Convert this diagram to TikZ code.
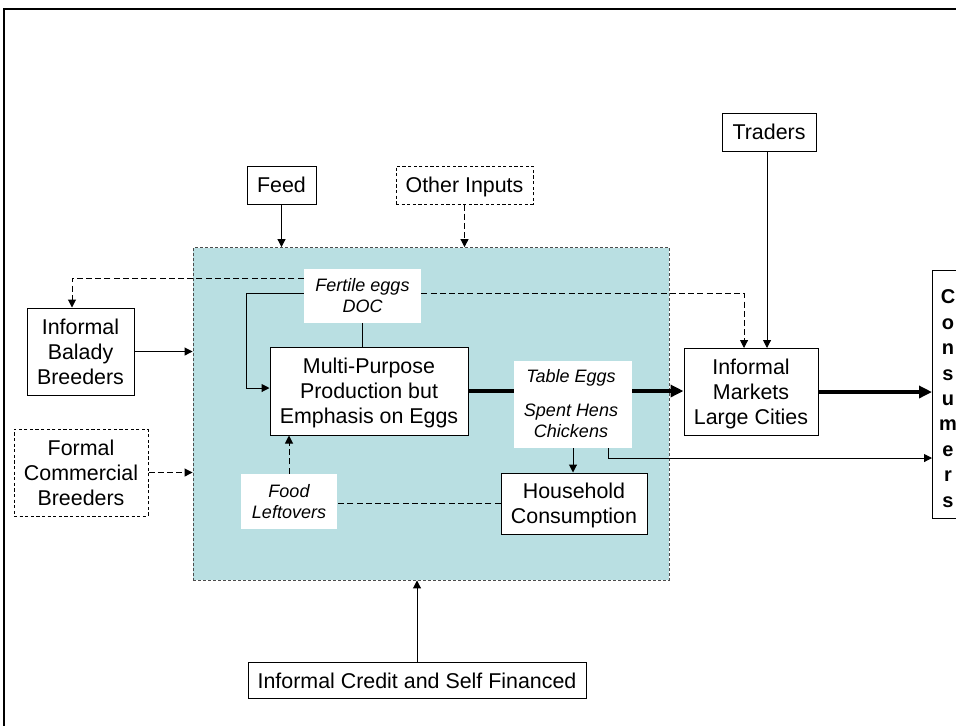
\documentclass[tikz,border=0pt]{standalone}
\usepackage{fontspec}
\setmainfont{Liberation Sans}
\usetikzlibrary{arrows.meta}
\pgfdeclarelayer{back}
\pgfdeclarelayer{lines}
\pgfsetlayers{back,lines,main}
\definecolor{sysfill}{HTML}{B9DFE2}
\tikzset{
  box/.style={draw, line width=0.5pt, fill=white, inner sep=0pt, align=center,
    text depth=0pt, font=\fontsize{10.7}{12.5}\selectfont},
  dbox/.style={box, dash pattern=on 1.6pt off 1.2pt},
  lab/.style={fill=white, inner sep=0pt, align=center,
    font=\fontsize{9}{10.5}\selectfont\itshape},
  txt/.style={inner sep=0pt, align=center, font=\fontsize{9}{10.5}\selectfont\itshape},
  conn/.style={line width=0.5pt, -{Triangle[length=4pt,width=4pt]}},
  dconn/.style={conn, dash pattern=on 3pt off 1.6pt},
  dline/.style={line width=0.5pt, dash pattern=on 3pt off 1.6pt},
  heavy/.style={line width=2pt, -{Triangle[length=6.5pt,width=6pt]}},
  sysbox/.style={fill=sysfill, draw=black!70, line width=0.45pt,
    dash pattern=on 1.5pt off 1pt, inner sep=0pt}
}
\begin{document}
\begin{tikzpicture}[x=0.5pt, y=-0.5pt]
\useasboundingbox (0,0) rectangle (956,725);
\clip (0,0) rectangle (956,725);

% production system area
\begin{pgfonlayer}{back}
\fill[white] (0,0) rectangle (956,725);
\node[sysbox, minimum width=238pt, minimum height=166.25pt] (sys) at (431,413.75) {};
\end{pgfonlayer}

% outer frame
\draw[line width=1pt] (4,760) -- (4,9) -- (1000,9);

% inputs
\node[box, minimum width=34.5pt, minimum height=19pt] (feed) at (281.5,185) {Feed};
\node[dbox, minimum width=68.5pt, minimum height=19pt] (oth) at (464.5,185) {Other Inputs};
\node[box, minimum width=47pt, minimum height=19pt] (tr) at (769,132) {Traders};

% breeders
\node[box, minimum width=53.5pt, minimum height=43.5pt] (bb) at (80.5,351.5) {Informal\\Balady\\Breeders};
\node[dbox, minimum width=67pt, minimum height=43.5pt] (fc) at (81,472.5) {Formal\\Commercial\\Breeders};

% inside the system
\node[lab, minimum width=58.5pt, minimum height=27pt] (fe) at (362.5,296) {Fertile eggs\\DOC};
\node[box, minimum width=99pt, minimum height=44pt] (mp) at (369,391) {Multi-Purpose\\Production but\\Emphasis on Eggs};
\node[lab, minimum width=59pt, minimum height=43.5pt] (te) at (573,404.5) {};
\node[txt] (tet) at (571,378) {Table Eggs};
\node[txt] (sht) at (571,420.5) {Spent Hens\\Chickens};
\node[box, minimum width=73pt, minimum height=30.5pt] (hh) at (574,503.5) {Household\\Consumption};
\node[lab, minimum width=48pt, minimum height=27.5pt] (fl) at (289,501.5) {Food\\Leftovers};

% markets and consumers
\node[box, minimum width=67pt, minimum height=43.5pt] (mk) at (751,392) {Informal\\Markets\\Large Cities};
\node[box, minimum width=20pt, minimum height=124pt, anchor=west] (cons) at (932,394) {};
\node[inner sep=0pt, align=center, font=\fontsize{10}{12.7}\selectfont\bfseries] (ctxt) at (948,398.5)
  {C\\o\\n\\s\\u\\m\\e\\r\\s};

% finance
\node[box, minimum width=169pt, minimum height=18pt] (cr) at (417,680.5) {Informal Credit and Self Financed};

% helper coordinates
\coordinate (xta) at (767,0);
\coordinate (xda) at (744,0);
\coordinate (xbb) at (72,0);
\coordinate (xlp) at (246,0);
\coordinate (xsc) at (608,0);
\coordinate (yup) at (0,278);
\coordinate (ymid) at (0,293);
\coordinate (ycs) at (0,458);
\coordinate (ylp) at (0,388);

% connectors
\begin{pgfonlayer}{lines}
\draw[conn] (feed.south) -- (feed.south |- sys.north);
\draw[dconn] (oth.south) -- (oth.south |- sys.north);
\draw[conn] (xta |- tr.south) -- (xta |- mk.north);
\draw[dconn] (fe.east |- ymid) -| (xda |- mk.north);
\draw[dconn] (fe.west |- yup) -| (xbb |- bb.north);
\draw[conn] (fe.west |- ymid) -| (xlp |- ylp) -- (mp.west |- ylp);
\draw[line width=0.5pt] (fe.south) -- (fe.south |- mp.north);
\draw[heavy] (mp.east) -- (mk.west |- mp.east);
\draw[heavy] (mk.east) -- (cons.west |- mk.east);
\draw[conn] (te.south) -- (te.south |- hh.north);
\draw[conn] (xsc |- te.south) |- (cons.west |- ycs);
\draw[dline] (hh.west) -- (fl.east |- hh.west);
\draw[dconn] (fl.north) -- (fl.north |- mp.south);
\draw[conn] (bb.east) -- (bb.east -| sys.west);
\draw[dconn] (fc.east) -- (fc.east -| sys.west);
\draw[conn] (cr.north) -- (cr.north |- sys.south);
\end{pgfonlayer}
\end{tikzpicture}
\end{document}
